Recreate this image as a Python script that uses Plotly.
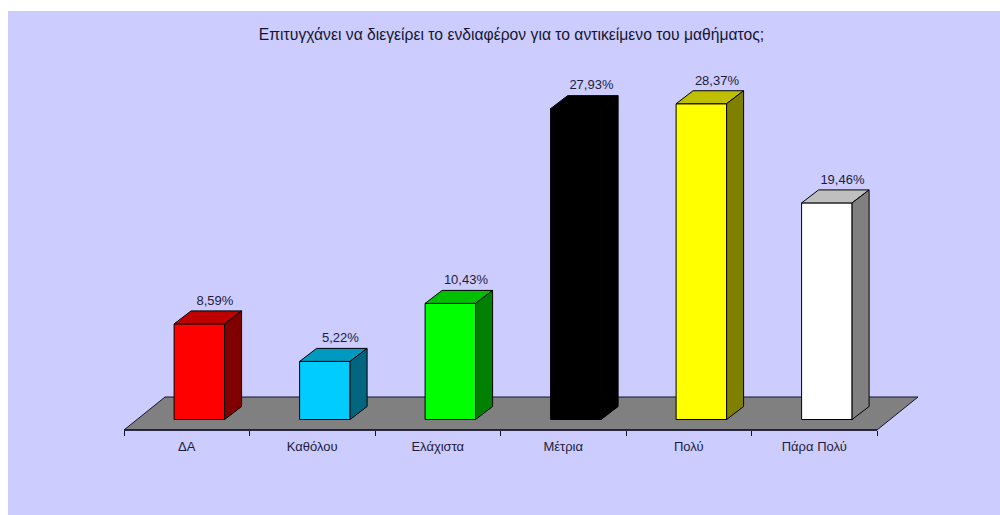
import plotly.graph_objects as go

categories = ["ΔΑ", "Καθόλου", "Ελάχιστα", "Μέτρια", "Πολύ", "Πάρα Πολύ"]
values = [8.59, 5.22, 10.43, 27.93, 28.37, 19.46]
labels = ["8,59%", "5,22%", "10,43%", "27,93%", "28,37%", "19,46%"]
front_colors = ["#FF0000", "#00CCFF", "#00FF00", "#000000", "#FFFF00", "#FFFFFF"]
top_colors = ["#BF0000", "#0099BF", "#00BF00", "#000000", "#BFBF00", "#BFBFBF"]
side_colors = ["#800000", "#006680", "#008000", "#000000", "#808000", "#808080"]
title = "Επιτυγχάνει να διεγείρει το ενδιαφέρον για το αντικείμενο του μαθήματος;"

# scale: pixels per data unit, and the fake 3D depth expressed through it
W, H = 1000, 515
LEFT, TOP = 8, 11
PX_X = 125.5
PX_Y = 11.13
X0_PX, Y0_PX = 124, 419.5
DX = 17 / PX_X
DY = 13 / PX_Y
BAR_W = 50.5 / PX_X
BAR_SHIFT = 12.6 / PX_X
FLOOR_FRONT = -10.5 / PX_Y
FLOOR_BACK = 22.5 / PX_Y
FLOOR_DX = 41 / PX_X
LINE = "#14142e"
TEXT = "#1c1c3c"
FONT = "Liberation Sans, Arial, sans-serif"

n = len(categories)
centers = [i + 0.5 + BAR_SHIFT for i in range(n)]

fig = go.Figure()

fig.add_shape(
    type="path", layer="below", xref="x", yref="y",
    path=f"M 0 {FLOOR_FRONT} L {n} {FLOOR_FRONT} L {n + FLOOR_DX} {FLOOR_BACK} L {FLOOR_DX} {FLOOR_BACK} Z",
    fillcolor="#808080", line=dict(color=LINE, width=1),
)

fig.add_trace(go.Bar(
    x=centers, y=values, width=BAR_W,
    marker=dict(color=front_colors, line=dict(color="#000000", width=1)),
    hoverinfo="skip", showlegend=False,
))

for c, v, tc, sc in zip(centers, values, top_colors, side_colors):
    l, r = c - BAR_W / 2, c + BAR_W / 2
    fig.add_trace(go.Scatter(
        x=[l, r, r + DX, l + DX, l], y=[v, v, v + DY, v + DY, v],
        mode="lines", fill="toself", fillcolor=tc,
        line=dict(color="#000000", width=1), hoverinfo="skip", showlegend=False,
    ))
    fig.add_trace(go.Scatter(
        x=[r, r + DX, r + DX, r, r], y=[0, DY, v + DY, v, 0],
        mode="lines", fill="toself", fillcolor=sc,
        line=dict(color="#000000", width=1), hoverinfo="skip", showlegend=False,
    ))

# value labels above each column
fig.add_trace(go.Scatter(
    x=[c + DX * 0.8 + 2 / PX_X for c in centers],
    y=[v + DY + 0.85 for v in values],
    mode="text", text=labels, textposition="middle center",
    textfont=dict(family=FONT, size=13, color=TEXT),
    hoverinfo="skip", showlegend=False,
))

# front axis line
fig.add_trace(go.Scatter(
    x=[0, n], y=[FLOOR_FRONT, FLOOR_FRONT], mode="lines",
    line=dict(color=LINE, width=1.5), hoverinfo="skip", showlegend=False,
))

plot_h = H - TOP
x_range = [(LEFT - X0_PX) / PX_X, (W - X0_PX) / PX_X]
y_range = [-(H - Y0_PX) / PX_Y, (Y0_PX - TOP) / PX_Y]
axis_pos = (H - (Y0_PX + 10.5)) / plot_h

fig.update_layout(
    width=W, height=H,
    margin=dict(l=LEFT, r=0, t=TOP, b=0, pad=0),
    paper_bgcolor="#FFFFFF", plot_bgcolor="#CCCCFF",
    showlegend=False,
    title=dict(
        text=title, xref="container", yref="container",
        x=511.5 / W, y=1 - 35 / H, xanchor="center", yanchor="middle",
        font=dict(family=FONT, size=15.7, color="#16162e"),
    ),
    xaxis=dict(
        range=x_range, anchor="free", position=axis_pos,
        tickmode="array", tickvals=[i + 0.5 for i in range(n)], ticktext=categories,
        ticks="", showgrid=False, zeroline=False, showline=False, fixedrange=True,
        tickfont=dict(family=FONT, size=13, color=TEXT), ticklabelstandoff=7,
        minor=dict(tickmode="array", tickvals=list(range(n + 1)), ticks="outside",
                   ticklen=5, tickwidth=1, tickcolor=LINE, showgrid=False),
    ),
    yaxis=dict(range=y_range, visible=False, fixedrange=True),
)

fig.write_html(
    "out.html",
    config={"displayModeBar": False},
    post_script="document.body.style.margin='0';document.body.style.overflow='hidden';",
)
